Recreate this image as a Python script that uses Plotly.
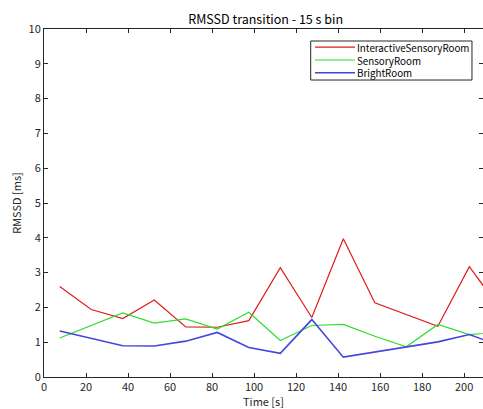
import plotly.graph_objects as go

time_s = [7.5, 22.5, 37.5, 52.5, 67.5, 82.5, 97.5, 112.5, 127.5, 142.5, 157.5, 172.5, 187.5, 202.5, 217.5]
interactive = [2.60, 1.94, 1.68, 2.21, 1.44, 1.43, 1.62, 3.14, 1.71, 3.97, 2.13, 1.79, 1.46, 3.17, 1.93]
sensory = [1.12, 1.47, 1.84, 1.55, 1.67, 1.38, 1.86, 1.05, 1.48, 1.51, 1.17, 0.87, 1.51, 1.22, 1.29]
bright = [1.32, 1.10, 0.90, 0.89, 1.03, 1.28, 0.85, 0.68, 1.65, 0.57, 0.72, 0.87, 1.01, 1.22, 0.89]

series_names = ["InteractiveSensoryRoom", "SensoryRoom", "BrightRoom"]
series_values = [interactive, sensory, bright]
series_colors = ["#e01c1c", "#2fdc2f", "#4646dc"]
series_widths = [1.2, 1.2, 1.6]

x_ticks = [0, 20, 40, 60, 80, 100, 120, 140, 160, 180, 200]
y_ticks = [0, 1, 2, 3, 4, 5, 6, 7, 8, 9, 10]

FONT = "Noto Sans CJK JP"
AX = "#262626"

fig = go.Figure()
for name, vals, col, w in zip(series_names, series_values, series_colors, series_widths):
    fig.add_trace(go.Scatter(x=time_s, y=vals, mode="lines", name=name,
                             line=dict(color=col, width=w), showlegend=False))

# legend box drawn in paper coordinates (MATLAB-style compact legend)
leg_x0, leg_x1, leg_y0, leg_y1 = 0.6075, 0.9749, 0.8534, 0.9655
line_x0, line_x1, text_x = 0.6173, 0.7084, 0.713
row_y = [0.9477, 0.9109, 0.8744]
fig.add_shape(type="rect", xref="paper", yref="paper", x0=leg_x0, x1=leg_x1, y0=leg_y0, y1=leg_y1,
              line=dict(color=AX, width=1), fillcolor="white", layer="above")
for col, w, ry in zip(series_colors, series_widths, row_y):
    fig.add_shape(type="line", xref="paper", yref="paper", x0=line_x0, x1=line_x1, y0=ry, y1=ry,
                  line=dict(color=col, width=w), layer="above")
fig.add_annotation(xref="paper", yref="paper", x=text_x, y=row_y[1], text="<br>".join(series_names),
                   showarrow=False, xanchor="left", yanchor="middle", align="left", xshift=-2,
                   font=dict(family=FONT, size=9.8, color="#000000"))

axis_common = dict(showgrid=False, zeroline=False, showline=True, linecolor=AX, linewidth=1,
                   ticks="inside", ticklen=4, tickcolor=AX, mirror="ticks", automargin=False,
                   tickfont=dict(family=FONT, size=11, color=AX))

fig.update_layout(
    width=483, height=409,
    margin=dict(l=44, r=0, t=29, b=32),
    paper_bgcolor="white", plot_bgcolor="white",
    title=dict(text="RMSSD transition - 15 s bin", x=0.55, xanchor="center", y=0.951, yanchor="middle",
               font=dict(family=FONT, size=12.5, color="#000000")),
    xaxis=dict(range=[0, 209], tickvals=x_ticks, ticktext=[str(t) for t in x_ticks],
               title=dict(text="Time [s]", standoff=0, font=dict(family=FONT, size=11, color=AX)),
               **axis_common),
    yaxis=dict(range=[0, 10], tickvals=y_ticks, ticktext=[str(t) for t in y_ticks],
               title=dict(text="RMSSD [ms]", standoff=4, font=dict(family=FONT, size=11, color=AX)),
               **axis_common),
    showlegend=False,
)

fig.write_html("out.html", config={"displayModeBar": False},
               post_script="document.body.style.margin='0';document.body.style.overflow='hidden';")
